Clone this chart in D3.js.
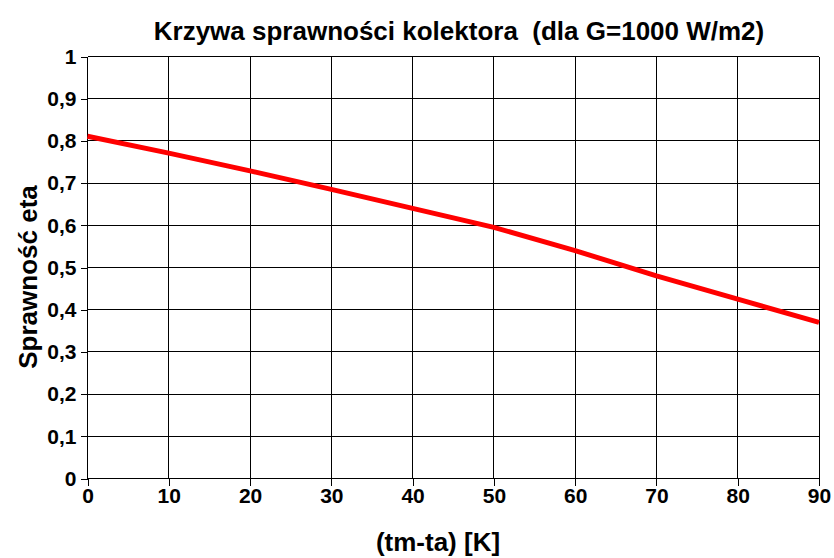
<!DOCTYPE html>
<html>
<head>
<meta charset="utf-8">
<title>Krzywa sprawności kolektora</title>
<script src="https://d3js.org/d3.v7.min.js"></script>
<style>
  body { margin: 0; background: #fff; }
  text { font-family: "Liberation Sans", Arial, sans-serif; font-weight: bold; fill: #000; }
  .axis path { display: none; }
  .axis line { stroke: #000; shape-rendering: crispEdges; }
  .axis text { font-size: 21px; }
  .grid line { stroke: #000; stroke-width: 1; shape-rendering: crispEdges; }
</style>
</head>
<body>
<script>
// temperature difference (tm-ta) [K]
var dT = [0, 10, 20, 30, 40, 50, 60, 70, 80, 90];
// collector efficiency eta
var eta = [0.811, 0.771, 0.729, 0.685, 0.640, 0.595, 0.540, 0.480, 0.425, 0.370];
var xTicks = [0, 10, 20, 30, 40, 50, 60, 70, 80, 90];
var yTicks = [0, 0.1, 0.2, 0.3, 0.4, 0.5, 0.6, 0.7, 0.8, 0.9, 1];

var w = 834, h = 558;
var mLeft = 87.5, mRight = 819, mTop = 56.5, mBottom = 478.5;

var svg = d3.select("body").append("svg")
  .attr("width", w)
  .attr("height", h);

var x = d3.scaleLinear().domain([0, 90]).range([mLeft, mRight]);
var y = d3.scaleLinear().domain([0, 1]).range([mBottom, mTop]);

// grid
var grid = svg.append("g").attr("class", "grid");
grid.selectAll(".v").data(xTicks).enter().append("line")
  .attr("x1", d => x(d)).attr("x2", d => x(d))
  .attr("y1", mTop).attr("y2", mBottom);
grid.selectAll(".h").data(yTicks).enter().append("line")
  .attr("x1", mLeft).attr("x2", mRight)
  .attr("y1", d => y(d)).attr("y2", d => y(d));

var fmt = d => d3.format(".1f")(d).replace(".", ",").replace(/^1,0$/, "1").replace(/^0,0$/, "0");

svg.append("g")
  .attr("class", "axis")
  .attr("transform", "translate(" + mLeft + ",0)")
  .call(d3.axisLeft(y).tickValues(yTicks).tickSize(7).tickPadding(4).tickFormat(fmt));

svg.append("g")
  .attr("class", "axis")
  .attr("transform", "translate(0," + mBottom + ")")
  .call(d3.axisBottom(x).tickValues(xTicks).tickSize(7).tickPadding(3).tickFormat(d3.format("d")));

// curve
var line = d3.line().x((d, i) => x(dT[i])).y(d => y(d));
svg.append("path")
  .datum(eta)
  .attr("d", line)
  .attr("fill", "none")
  .attr("stroke", "#ff0000")
  .attr("stroke-width", 5)
  .attr("stroke-linejoin", "round");

// titles
svg.append("text")
  .attr("x", 459).attr("y", 40)
  .attr("text-anchor", "middle")
  .attr("font-size", "26px")
  .attr("xml:space", "preserve")
  .text("Krzywa sprawności kolektora  (dla G=1000 W/m2)");

svg.append("text")
  .attr("x", 438).attr("y", 551)
  .attr("text-anchor", "middle")
  .attr("font-size", "26px")
  .text("(tm-ta) [K]");

svg.append("text")
  .attr("transform", "translate(37,277) rotate(-90)")
  .attr("text-anchor", "middle")
  .attr("font-size", "26px")
  .text("Sprawność eta");
</script>
</body>
</html>
